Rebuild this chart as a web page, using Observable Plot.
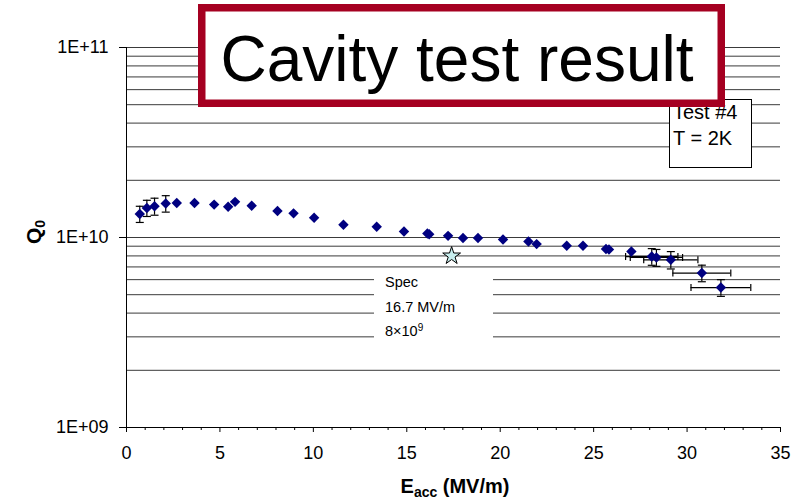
<!DOCTYPE html>
<html><head><meta charset="utf-8">
<script src="https://cdn.jsdelivr.net/npm/d3@7"></script>
<script src="https://cdn.jsdelivr.net/npm/@observablehq/plot@0.6"></script>
<style>
body{margin:0;background:#fff;font-family:"Liberation Sans",Arial,sans-serif}
#wrap{position:relative;width:798px;height:501px;overflow:hidden;background:#fff}
#wrap svg.ann{position:absolute;left:0;top:0;pointer-events:none}
</style></head><body><div id="wrap"></div>
<script>
// ---- data ----
const eacc = [0.71,1.09,1.50,2.10,2.69,3.64,4.69,5.44,5.81,6.70,8.08,8.94,10.04,11.61,13.39,14.85,16.1,16.2,17.21,18.01,18.81,20.15,21.51,21.95,23.56,24.43,25.66,25.82,27.02,28.11,28.36,29.13,30.79,31.81];
const q0 = [1.33e10,1.43e10,1.46e10,1.51e10,1.52e10,1.52e10,1.49e10,1.45e10,1.54e10,1.47e10,1.38e10,1.34e10,1.27e10,1.166e10,1.14e10,1.075e10,1.05e10,1.04e10,1.02e10,0.993e10,0.993e10,0.976e10,0.952e10,0.923e10,0.904e10,0.904e10,0.869e10,0.865e10,0.844e10,0.794e10,0.785e10,0.763e10,0.65e10,0.545e10];
const qErr = [0.13e10,0.14e10,0.15e10,0.15e10,
  null,null,null,null,null,null,null,null,null,null,null,null,null,null,null,null,null,null,null,null,null,null,null,null,null,
  0.08e10,0.08e10,0.08e10,0.065e10,0.055e10];
const eErr = [null,null,null,null,null,null,null,null,null,null,null,null,null,null,null,null,null,null,null,null,null,null,null,null,null,null,null,null,null,
  1.4,1.4,1.45,1.55,1.6];
const specPoint = {e: 17.4, q: 8e9};
const specLines = ["Spec", "16.7 MV/m", "8\u00d710"];
const specSup = "9";
const legendLines = ["Test #4", "T = 2K"];
const titleText = "Cavity test result";
const xTicks = [0,5,10,15,20,25,30,35];
const xMinorTicks = [1,2,3,4,6,7,8,9,11,12,13,14,16,17,18,19,21,22,23,24,26,27,28,29,31,32,33,34];
const yTicks = [1e9,1e10,1e11];
const yTickLabels = ["1E+09","1E+10","1E+11"];
const yGrid = [2e9,3e9,4e9,5e9,6e9,7e9,8e9,9e9,1e10,2e10,3e10,4e10,5e10,6e10,7e10,8e10,9e10,1e11];

const points = eacc.map((e,i)=>({e, q:q0[i], dq:qErr[i], de:eErr[i]}));
const vErr = points.filter(d=>d.dq);
const hErr = points.filter(d=>d.de);

const hline = {draw(ctx,size){const r=Math.sqrt(size/Math.PI);ctx.moveTo(-r,0);ctx.lineTo(r,0);}};
const vline = {draw(ctx,size){const r=Math.sqrt(size/Math.PI);ctx.moveTo(0,-r);ctx.lineTo(0,r);}};

const chart = Plot.plot({
  width:798, height:501,
  marginLeft:126, marginRight:18, marginTop:47, marginBottom:74,
  style:{fontFamily:'"Liberation Sans", Arial, sans-serif', fontSize:"18px", background:"white", color:"black", overflow:"visible"},
  x:{domain:[0,35]},
  y:{type:"log", domain:[1e9,1e11]},
  marks:[
    Plot.ruleY(yGrid, {stroke:"#3a3a3a", strokeWidth:1}),
    Plot.ruleY([1e9], {stroke:"#000", strokeWidth:1}),
    Plot.ruleX([0], {stroke:"#000", strokeWidth:1}),
    Plot.axisY(yTicks, {tickSize:7, tickPadding:11, fontSize:18, label:null,
      tickFormat:d=>yTickLabels[yTicks.indexOf(d)]}),
    Plot.axisX(xTicks, {tickSize:5, tickPadding:14, fontSize:18, label:null}),
    Plot.axisX(xMinorTicks, {tickSize:3, tickFormat:()=>"", label:null}),
    Plot.ruleX(vErr, {x:"e", y1:d=>d.q-d.dq, y2:d=>d.q+d.dq, stroke:"#000", strokeWidth:1.2}),
    Plot.dot(vErr, {x:"e", y:d=>d.q-d.dq, symbol:hline, r:4, fill:"none", stroke:"#000", strokeWidth:1.2}),
    Plot.dot(vErr, {x:"e", y:d=>d.q+d.dq, symbol:hline, r:4, fill:"none", stroke:"#000", strokeWidth:1.2}),
    Plot.ruleY(hErr, {y:"q", x1:d=>d.e-d.de, x2:d=>d.e+d.de, stroke:"#000", strokeWidth:1.2}),
    Plot.dot(hErr, {x:d=>d.e-d.de, y:"q", symbol:vline, r:3.5, fill:"none", stroke:"#000", strokeWidth:1.2}),
    Plot.dot(hErr, {x:d=>d.e+d.de, y:"q", symbol:vline, r:3.5, fill:"none", stroke:"#000", strokeWidth:1.2}),
    Plot.dot(points, {x:"e", y:"q", symbol:"diamond2", r:4.7, fill:"#000080", stroke:"none"}),
    Plot.dot([specPoint], {x:"e", y:"q", symbol:"star", r:5.6, fill:"#c8eeee", stroke:"#000", strokeWidth:1})
  ]
});
const wrap = document.getElementById("wrap");
wrap.appendChild(chart);

// ---- annotations overlay ----
const svg = d3.select(wrap).append("svg").attr("class","ann")
  .attr("width",798).attr("height",501)
  .style("font-family",'"Liberation Sans", Arial, sans-serif');

// spec text block
svg.append("rect").attr("x",374).attr("y",268).attr("width",119).attr("height",76).attr("fill","#fff");
const specY = [286.5, 311.5, 336];
specLines.forEach((t,i)=>{
  const tx = svg.append("text").attr("x",385).attr("y",specY[i]).attr("font-size",14.5).attr("fill","#000").text(t);
  if(i===2) tx.append("tspan").attr("dy",-5).attr("font-size",10).text(specSup);
});
// axis titles
svg.append("text").attr("x",455).attr("y",493).attr("text-anchor","middle").attr("font-size",20).attr("font-weight","bold")
  .call(t=>{t.append("tspan").text("E");t.append("tspan").attr("font-size",14).attr("dy",4).text("acc");t.append("tspan").attr("dy",-4).text(" (MV/m)");});
svg.append("text").attr("transform","translate(41,232) rotate(-90)").attr("text-anchor","middle").attr("font-size",21).attr("font-weight","bold")
  .call(t=>{t.append("tspan").text("Q");t.append("tspan").attr("font-size",14).attr("dy",4).text("0");});
// legend box
svg.append("rect").attr("x",669.5).attr("y",99.5).attr("width",82).attr("height",68).attr("fill","#fff").attr("stroke","#000").attr("stroke-width",1);
const legY = [119, 145];
legendLines.forEach((t,i)=>svg.append("text").attr("x",673).attr("y",legY[i]).attr("font-size",20).attr("fill","#000").text(t));
// title box
svg.append("rect").attr("x",201.75).attr("y",7.75).attr("width",519.5).attr("height",95.5).attr("fill","#fff").attr("stroke","#a50021").attr("stroke-width",7.5);
svg.append("text").attr("x",457).attr("y",81).attr("text-anchor","middle").attr("font-size",64).attr("fill","#000").text(titleText);
</script></body></html>
